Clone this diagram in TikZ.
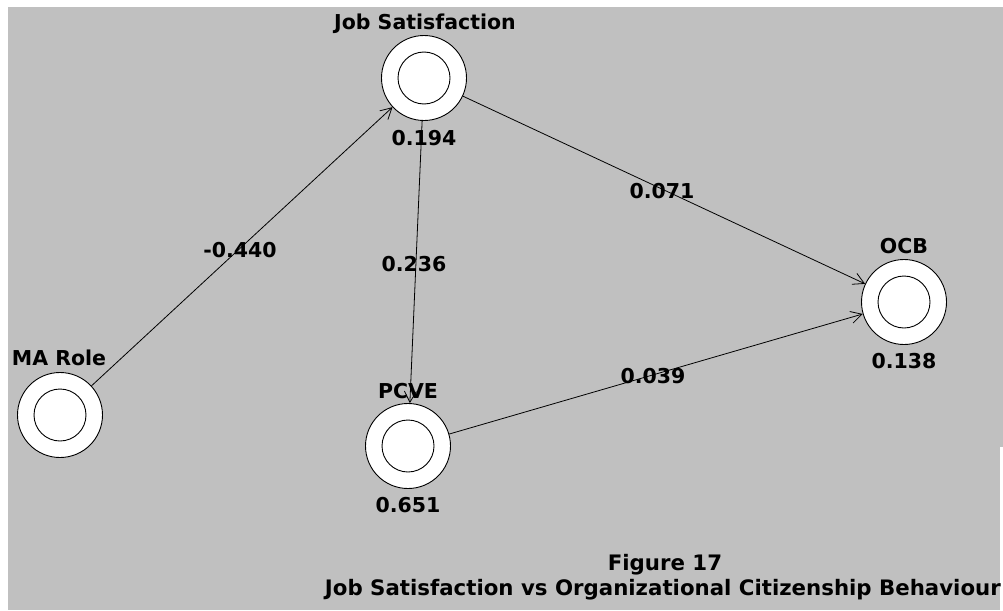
\documentclass[tikz,border=0pt]{standalone}
\usepackage{fontspec}
\setmainfont{DejaVu Sans}
\usetikzlibrary{arrows.meta}
\definecolor{panel}{HTML}{C0C0C0}
\begin{document}
\begin{tikzpicture}[x=1pt,y=-1pt,
  construct/.style={circle,draw=black,fill=white,line width=0.9pt,minimum size=85pt,inner sep=0pt},
  core/.style={circle,draw=black,line width=0.9pt,minimum size=52pt,inner sep=0pt},
  txt/.style={font=\bfseries\fontsize{20.5}{24}\selectfont,inner sep=0pt,anchor=base},
  captxt/.style={font=\bfseries\fontsize{21.3}{25}\selectfont,inner sep=0pt,anchor=base},
  link/.style={draw=black,line width=0.8pt,-{Straight Barb[length=11pt,width=12pt]}}]
\useasboundingbox (0,0) rectangle (1003,610);
\fill[white] (0,0) rectangle (1003,610);
\fill[panel] (8,7) rectangle (1003,610);
\fill[white] (1000,447) rectangle (1003,610);

% latent variables
\node[construct] (js)   at (424,78)  {};
\node[construct] (ma)   at (60,415)  {};
\node[construct] (pcve) at (408,446) {};
\node[construct] (ocb)  at (904,302) {};
\node[core] (jsi)   at (js)   {};
\node[core] (mai)   at (ma)   {};
\node[core] (pcvei) at (pcve) {};
\node[core] (ocbi)  at (ocb)  {};

% structural paths
\draw[link] (ma)   -- (js);
\draw[link] (js)   -- (pcve);
\draw[link] (js)   -- (ocb);
\draw[link] (pcve) -- (ocb);

% construct names and R-squared values
\node[txt] (jsname)   at (425,30)  {Job Satisfaction};
\node[txt] (jsr)      at (424,145) {0.194};
\node[txt] (maname)   at (59,365)  {MA Role};
\node[txt] (pcvename) at (408,398) {PCVE};
\node[txt] (pcver)    at (408,512) {0.651};
\node[txt] (ocbname)  at (904,253) {OCB};
\node[txt] (ocbr)     at (904,368) {0.138};

% path coefficients
\node[txt] (c1) at (240,257) {-0.440};
\node[txt] (c2) at (414,271) {0.236};
\node[txt] (c3) at (662,198) {0.071};
\node[txt] (c4) at (653,383) {0.039};

% caption
\node[captxt] (fig) at (665,570) {Figure 17};
\node[captxt,anchor=base east] (title) at (1001,595) {Job Satisfaction vs Organizational Citizenship Behaviour};
\end{tikzpicture}
\end{document}
